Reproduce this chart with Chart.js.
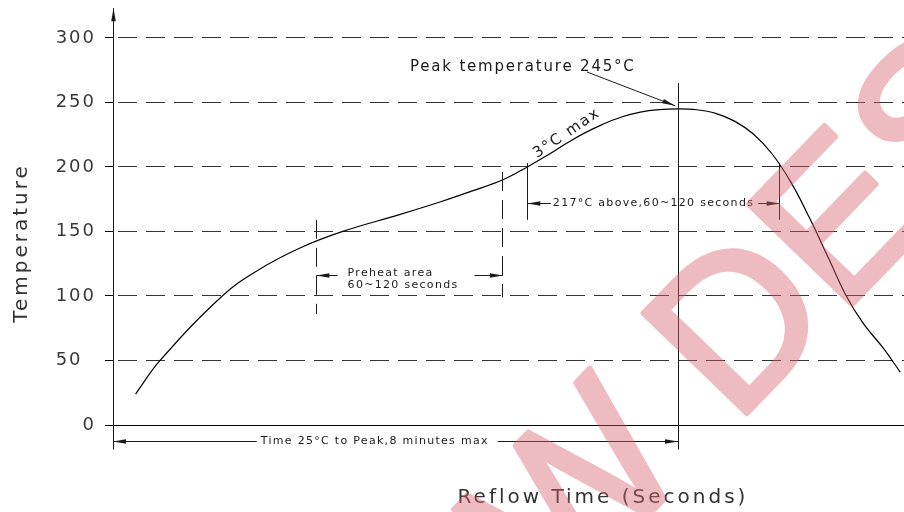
<!DOCTYPE html>
<html>
<head>
<meta charset="utf-8">
<script src="https://cdn.jsdelivr.net/npm/chart.js@4.4.0/dist/chart.umd.min.js"></script>
<style>
  html, body { margin: 0; padding: 0; background: #fff; }
</style>
</head>
<body>
<canvas id="chart" width="904" height="512"></canvas>
<script>
// Reflow profile: time in seconds, temperature in °C
const times = [12, 25, 58, 77, 99, 122, 152, 174, 190, 207, 220, 230, 240, 250, 260, 270, 280, 290, 300, 310, 320, 330, 340, 350, 360, 370, 380, 389, 398, 409, 418];
const temps = [24, 50, 100, 120, 137, 150, 163, 173, 181, 190, 200, 208.5, 217.5, 226, 233, 238.7, 242.5, 244.4, 245, 244.3, 241.5, 235.5, 225.5, 210, 188, 160, 129, 101, 79.5, 59.5, 41];
const yTickValues = [0, 50, 100, 150, 200, 250, 300];
const yTickLabels = ['0', '50\u2007', '100', '150', '200', '250', '300'];

// annotation values
const peakTime = 300;
const peakTemp = 245;
const preheatWindow = [108, 207];
const liquidusWindow = [220, 354];

const FONT = "'DejaVu Sans', sans-serif";
const INK = '#1a1a1a';

const crisp = v => Math.round(v - 0.5) + 0.5;

function drawLine(ctx, x1, y1, x2, y2, dash) {
  ctx.save();
  ctx.setLineDash(dash || []);
  ctx.beginPath();
  if (x1 === x2) { x1 = x2 = crisp(x1); }
  if (y1 === y2) { y1 = y2 = crisp(y1); }
  ctx.moveTo(x1, y1);
  ctx.lineTo(x2, y2);
  ctx.stroke();
  ctx.restore();
}

// narrow filled arrow head, tip at (x, y)
function drawArrowHead(ctx, x, y, angle) {
  ctx.save();
  ctx.translate(x, y);
  ctx.rotate(angle);
  ctx.beginPath();
  ctx.moveTo(0, 0);
  ctx.lineTo(-13, -2.3);
  ctx.lineTo(-13, 2.3);
  ctx.closePath();
  ctx.fill();
  ctx.restore();
}

// dimension line with arrows at both ends and the text set into a gap
function drawDimension(ctx, xa, xb, y, lines, textX, gapL, gapR, offsets) {
  ctx.font = '11px ' + FONT;
  ctx.letterSpacing = '1.3px';
  const w = Math.max(...lines.map(s => ctx.measureText(s).width));
  const left = textX - w / 2;
  drawLine(ctx, xa, y, left - gapL, y);
  drawLine(ctx, left + w + gapR, y, xb, y);
  drawArrowHead(ctx, xa, crisp(y), Math.PI);
  drawArrowHead(ctx, xb, crisp(y), 0);
  ctx.textAlign = 'left';
  ctx.textBaseline = 'middle';
  lines.forEach((s, i) => ctx.fillText(s, left, y + offsets[i]));
}

const annotations = {
  id: 'annotations',
  beforeDraw(chart) {
    chart.ctx.letterSpacing = '2px';
  },
  afterDraw(chart) {
    const { ctx, scales: { x, y } } = chart;
    const px = v => x.getPixelForValue(v);
    const py = v => y.getPixelForValue(v);
    ctx.save();
    ctx.strokeStyle = INK;
    ctx.fillStyle = INK;
    ctx.lineWidth = 1;

    // y axis: arrow on top, extension below the time axis
    drawLine(ctx, px(0), py(323), px(0), py(-19));
    drawArrowHead(ctx, crisp(px(0)), py(323), -Math.PI / 2);

    // peak line
    drawLine(ctx, px(peakTime), py(265), px(peakTime), py(-19));

    // liquidus markers and dimension
    liquidusWindow.forEach(t => drawLine(ctx, px(t), py(203), px(t), py(159)));
    drawDimension(ctx, px(liquidusWindow[0]), px(liquidusWindow[1]), py(172),
      ['217°C above,60~120 seconds'], px((liquidusWindow[0] + liquidusWindow[1]) / 2), 2, 4, [0]);

    // preheat markers (dashed) and dimension
    drawLine(ctx, px(preheatWindow[0]), py(159), px(preheatWindow[0]), py(86), [19, 9]);
    drawLine(ctx, px(preheatWindow[1]), py(196), px(preheatWindow[1]), py(99), [19, 9]);
    drawDimension(ctx, px(preheatWindow[0]), px(preheatWindow[1]), py(116),
      ['Preheat area', '60~120 seconds'], px(154), 10, 16, [-2, 10]);

    // time to peak dimension
    drawDimension(ctx, px(0), px(peakTime), py(-12.4),
      ['Time 25°C to Peak,8 minutes max'], px(139), 4, 9, [0]);

    // peak temperature callout
    ctx.font = '15px ' + FONT;
    ctx.letterSpacing = '1.8px';
    ctx.textAlign = 'left';
    ctx.textBaseline = 'middle';
    ctx.fillText('Peak temperature 245°C', px(157.7), py(277.5));
    const ax = px(251.6), ay = py(273.6), bx = px(298.5), by = py(peakTemp + 2.3);
    drawLine(ctx, ax, ay, bx, by);
    drawArrowHead(ctx, bx, by, Math.atan2(by - ay, bx - ax));

    // ramp rate note along the curve
    ctx.save();
    ctx.translate(px(241), py(226));
    ctx.rotate(-34 * Math.PI / 180);
    ctx.textAlign = 'center';
    ctx.fillText('3°C max', 0, 0);
    ctx.restore();

    // axis titles
    ctx.fillStyle = '#333';
    ctx.font = '20px ' + FONT;
    ctx.letterSpacing = '3px';
    ctx.textAlign = 'center';
    ctx.fillText('Reflow Time (Seconds)', 603, 498);
    ctx.save();
    ctx.translate(22, 243);
    ctx.rotate(-Math.PI / 2);
    ctx.fillText('Temperature', 0, 0);
    ctx.restore();

    ctx.restore();
  }
};

// pink diagonal stamp, drawn opaque off screen then laid over with alpha
const watermark = {
  id: 'watermark',
  afterDraw(chart) {
    const off = document.createElement('canvas');
    off.width = chart.width;
    off.height = chart.height;
    const o = off.getContext('2d');
    o.font = "210px 'Liberation Sans', sans-serif";
    o.fillStyle = o.strokeStyle = 'rgb(214, 96, 106)';
    o.lineWidth = 5;
    o.lineJoin = 'round';
    o.translate(735, 426);
    o.rotate(-46 * Math.PI / 180);
    o.textBaseline = 'alphabetic';
    const lead = o.measureText('NEW ').width;
    o.fillText('NEW DESIGN', -lead, 0);
    o.strokeText('NEW DESIGN', -lead, 0);

    const ctx = chart.ctx;
    ctx.save();
    ctx.globalAlpha = 0.42;
    ctx.drawImage(off, 0, 0);
    ctx.restore();
  }
};

new Chart(document.getElementById('chart'), {
  type: 'line',
  data: {
    datasets: [{
      data: times.map((t, i) => ({ x: t, y: temps[i] })),
      borderColor: '#000',
      borderWidth: 1.2,
      pointRadius: 0,
      tension: 0.4,
      fill: false
    }]
  },
  options: {
    responsive: false,
    animation: false,
    devicePixelRatio: 1,
    layout: { padding: 0 },
    plugins: { legend: { display: false }, tooltip: { enabled: false } },
    scales: {
      x: {
        type: 'linear',
        min: 0,
        max: 420,
        ticks: { display: false },
        grid: { display: false, drawTicks: false },
        border: { display: true, color: '#000', width: 1 },
        afterFit(scale) { scale.height = 87; }
      },
      y: {
        min: 0,
        max: 314,
        afterBuildTicks(scale) { scale.ticks = yTickValues.map(v => ({ value: v })); },
        afterFit(scale) { scale.width = 113; },
        ticks: {
          padding: 9,
          color: '#3a3a3a',
          font: { family: FONT, size: 18 },
          callback: (v) => yTickLabels[yTickValues.indexOf(v)]
        },
        grid: {
          color: '#333',
          lineWidth: 1,
          tickLength: 8,
          tickColor: '#000',
          tickBorderDash: []
        },
        border: { display: true, color: '#000', width: 1, dash: [19, 9], dashOffset: 24 }
      }
    }
  },
  plugins: [annotations, watermark]
});
</script>
</body>
</html>
